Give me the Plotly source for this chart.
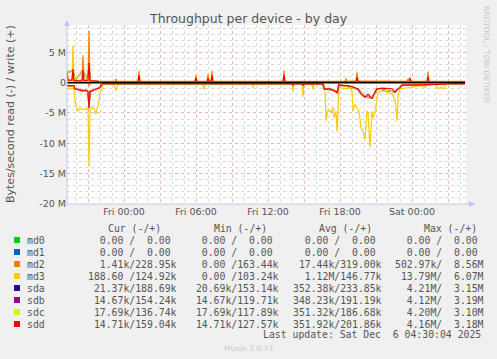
import plotly.graph_objects as go

# ---------------- data (values in MB/s) ----------------
D = "2025-12-0"
md3_read_t = ["4 19:15","4 19:50","4 19:55","4 20:00","4 20:10","4 20:20","4 20:30","4 20:40","4 20:50","4 20:55",
              "4 21:00","4 21:05","4 21:10","4 21:20","4 21:30","4 21:40","4 21:45","4 21:55","4 22:00","4 22:10",
              "4 22:15","4 22:50","4 23:10","4 23:20","4 23:30","5 00:00","5 06:30","5 06:40","5 06:50","5 10:40",
              "5 10:45","5 10:50","5 14:00","5 14:05","5 14:10","5 14:50","5 14:55","5 15:00","5 15:40","5 15:45",
              "5 15:50","5 16:40","5 16:45","5 16:50","5 17:00","5 17:15","5 17:25","5 17:30","5 17:40","5 17:45",
              "5 17:50","5 17:55","5 18:25","5 18:55","5 19:00","5 19:05","5 19:15","5 19:25","5 19:35","5 19:45",
              "5 19:55","5 20:05","5 20:15","5 20:20","5 20:30","5 20:40","5 20:45","5 20:55","5 21:05","5 21:10",
              "5 21:30","5 21:55","5 22:20","5 22:35","5 22:45","5 22:50","5 23:00","5 23:50","6 00:40","6 01:05",
              "6 01:15","6 02:00","6 02:05","6 02:25","6 02:40","6 02:50","6 04:25"]
md3_read = [1.0,1.0,3.0,3.8,4.7,4.2,4.5,4.3,4.4,4.2,
            4.5,13.8,4.4,4.1,4.3,5.2,4.5,3.0,1.6,1.0,
            0.2,0.1,0.2,1.3,0.3,0.05,0.05,1.1,0.1,0.05,
            0.8,0.05,0.1,1.5,0.1,0.2,2.3,0.3,0.2,1.1,
            0.1,0.3,1.5,6.3,4.4,4.9,4.1,5.8,4.7,8.0,
            4.0,0.8,1.0,1.0,1.5,4.7,3.6,4.2,4.7,7.4,
            8.0,9.4,4.7,4.9,10.7,4.7,5.8,4.9,3.0,1.6,
            1.3,1.6,1.9,2.8,6.3,2.2,1.0,0.8,0.5,0.8,
            0.1,0.1,1.0,0.8,1.0,0.1,0.05]

md3_write_t = ["4 19:15","4 19:40","4 19:45","4 19:50","4 21:10","5 01:10","5 01:15","5 01:20","6 04:25"]
md3_write = [0.3,0.3,6.07,0.3,0.15,0.1,0.8,0.1,0.1]

md2_write_t = ["4 19:15","4 19:20","4 19:40","4 19:45","4 19:50","4 20:30","4 20:35","4 20:40","4 21:00","4 21:05",
               "4 21:10","4 22:00","4 23:15","4 23:20","4 23:25","5 01:10","5 01:15","5 01:20","5 05:55","5 06:00",
               "5 06:05","5 06:55","5 07:00","5 07:05","5 07:15","5 07:20","5 07:25","5 13:15","5 13:20","5 13:25",
               "5 18:25","5 18:30","5 18:35","5 19:20","5 19:25","5 19:30","5 23:35","5 23:40","5 23:50","5 23:55",
               "6 01:15","6 01:20","6 01:25","6 04:25"]
md2_write = [2.0,0.3,0.4,2.5,0.3,0.4,4.5,0.4,0.5,8.56,
             0.4,0.2,0.2,0.6,0.2,0.2,1.9,0.2,0.2,1.2,
             0.2,0.2,1.45,0.3,0.3,1.9,0.2,0.2,2.0,0.2,
             0.2,0.7,0.2,0.3,1.7,0.3,0.2,0.6,0.7,0.2,
             0.2,1.8,0.2,0.2]
md2_read_t = ["4 19:15","4 21:00","4 21:05","4 21:10","6 04:25"]
md2_read = [0.05,0.05,0.5,0.05,0.02]

sdd_write_t = ["4 19:15","4 19:20","4 19:40","4 19:45","4 19:50","4 20:30","4 20:35","4 20:40","4 21:00","4 21:05",
               "4 21:10","4 22:00","5 01:10","5 01:15","5 01:20","5 05:55","5 06:00","5 06:05","5 06:55","5 07:00",
               "5 07:05","5 07:15","5 07:20","5 07:25","5 13:15","5 13:20","5 13:25","5 19:20","5 19:25","5 19:30",
               "5 23:45","5 23:50","5 23:55","6 01:15","6 01:20","6 01:25","6 04:25"]
sdd_write = [1.7,0.4,0.4,2.2,0.3,0.3,2.0,0.3,0.4,3.18,
             0.3,0.15,0.15,1.2,0.15,0.15,0.8,0.15,0.15,0.7,
             0.15,0.15,1.2,0.15,0.15,1.2,0.15,0.15,0.9,0.15,
             0.15,0.7,0.15,0.15,1.0,0.15,0.15]
sdd_read_t = ["4 19:15","4 19:50","4 19:55","4 20:10","4 20:30","4 20:50","4 21:00","4 21:05","4 21:10","4 21:30",
              "4 21:50","4 22:00","4 22:05","4 22:15","5 14:00","5 14:05","5 14:10","5 14:50","5 14:55","5 15:00",
              "5 16:35","5 16:40","5 16:55","5 17:10","5 17:25","5 17:40","5 17:45","5 17:55","5 18:05","5 18:40",
              "5 19:05","5 19:30","5 19:45","5 20:05","5 20:20","5 20:40","5 20:55","5 21:05","5 21:30","5 21:55",
              "5 22:20","5 22:35","5 22:45","5 23:00","5 23:10","6 02:20","6 03:00","6 04:25"]
sdd_read = [0.5,0.5,1.0,1.2,1.4,1.2,1.5,4.16,1.5,1.2,
            1.0,0.8,0.3,0.15,0.15,0.4,0.15,0.15,0.5,0.15,
            0.2,1.0,1.1,1.0,1.3,1.4,1.7,0.3,0.5,0.5,
            0.7,1.1,1.9,2.4,1.9,2.6,1.6,1.0,0.9,0.9,
            1.0,1.6,1.1,0.8,0.4,0.3,0.15,0.15]

disk_t = ["4 19:15","4 19:45","4 19:55","4 20:35","4 21:00","4 21:05","4 21:10","4 22:00","4 22:15","5 16:35",
          "5 16:40","5 17:25","5 17:45","5 17:55","5 19:30","5 20:05","5 20:40","5 21:05","5 22:35","5 23:00",
          "5 23:10","6 04:25"]
sda_read = [0.5,0.6,1.0,1.3,1.5,4.21,1.5,0.8,0.15,0.2,1.0,1.3,1.7,0.3,1.1,2.4,2.6,1.0,1.6,0.8,0.4,0.15]
sda_write = [1.5,2.1,0.4,1.9,0.4,3.15,0.3,0.15,0.15,0.15,0.15,0.15,0.15,0.15,0.15,0.15,0.15,0.15,0.15,0.15,0.15,0.15]
sdb_read = [0.5,0.6,1.0,1.2,1.4,4.12,1.4,0.8,0.15,0.2,1.0,1.2,1.6,0.3,1.0,2.3,2.5,1.0,1.5,0.8,0.4,0.15]
sdb_write = [1.6,2.0,0.4,2.0,0.4,3.19,0.3,0.15,0.15,0.15,0.15,0.15,0.15,0.15,0.15,0.15,0.15,0.15,0.15,0.15,0.15,0.15]
sdc_read = [0.5,0.6,1.0,1.3,1.5,4.20,1.5,0.8,0.15,0.2,1.0,1.3,1.7,0.3,1.1,2.4,2.6,1.0,1.6,0.8,0.4,0.15]
sdc_write = [1.5,2.1,0.4,1.9,0.4,3.10,0.3,0.15,0.15,0.15,0.15,0.15,0.15,0.15,0.15,0.15,0.15,0.15,0.15,0.15,0.15,0.15]
zero_t = ["4 19:15","6 04:25"]
zero_v = [0.0, 0.0]

devices = ["md0","md1","md2","md3","sda","sdb","sdc","sdd"]
colors = ["#00CC00","#0066B3","#FF8000","#FFCC00","#330099","#990099","#CCFF00","#FF0000"]
cur_col = [("0.00","0.00"),("0.00","0.00"),("1.41k","228.95k"),("188.60","124.92k"),
           ("21.37k","188.69k"),("14.67k","154.24k"),("17.69k","136.74k"),("14.71k","159.04k")]
min_col = [("0.00","0.00"),("0.00","0.00"),("0.00","163.44k"),("0.00","103.24k"),
           ("20.69k","153.14k"),("14.67k","119.71k"),("17.69k","117.89k"),("14.71k","127.57k")]
avg_col = [("0.00","0.00"),("0.00","0.00"),("17.44k","319.00k"),("1.12M","146.77k"),
           ("352.38k","233.85k"),("348.23k","191.19k"),("351.32k","186.68k"),("351.92k","201.86k")]
max_col = [("0.00","0.00"),("0.00","0.00"),("502.97k","8.56M"),("13.79M","6.07M"),
           ("4.21M","3.15M"),("4.12M","3.19M"),("4.20M","3.10M"),("4.16M","3.18M")]
col_heads = ["Cur (-/+)","Min (-/+)","Avg (-/+)","Max (-/+)"]

x_ticks = ["4 21:00","5 00:00","5 03:00","5 06:00","5 09:00","5 12:00","5 15:00","5 18:00","5 21:00","6 00:00","6 03:00"]
x_labels = ["","Fri 00:00","","Fri 06:00","","Fri 12:00","","Fri 18:00","","Sat 00:00",""]
y_ticks = [-20,-15,-10,-5,0,5]
y_labels = ["-20 M","-15 M","-10 M","-5 M","0","5 M"]

# ---------------- figure ----------------
W, H = 497, 359
ML, MR, MT, MB = 67, 31, 25, 155
PW, PH = W - ML - MR, H - MT - MB
def xp(px): return (px - ML) / PW
def yp(py): return (H - MB - py) / PH
def ts(lst): return [D + s for s in lst]

fig = go.Figure()
def line(t, v, c, sign=1, w=1.2):
    fig.add_trace(go.Scatter(x=ts(t), y=[sign * a for a in v], mode="lines",
                             line=dict(color=c, width=w), showlegend=False, hoverinfo="skip"))

line(zero_t, zero_v, colors[0]); line(zero_t, zero_v, colors[1])
line(md2_read_t, md2_read, colors[2], -1); line(md2_write_t, md2_write, colors[2])
line(md3_read_t, md3_read, colors[3], -1); line(md3_write_t, md3_write, colors[3])
line(disk_t, sda_read, colors[4], -1); line(disk_t, sda_write, colors[4])
line(disk_t, sdb_read, colors[5], -1); line(disk_t, sdb_write, colors[5])
line(disk_t, sdc_read, colors[6], -1); line(disk_t, sdc_write, colors[6])
line(sdd_read_t, sdd_read, colors[7], -1); line(sdd_write_t, sdd_write, colors[7])
line(zero_t, zero_v, "#000000", 1, 1.3)

grey = "#555555"
fig.update_layout(
    width=W, height=H, margin=dict(l=ML, r=MR, t=MT, b=MB),
    paper_bgcolor="#F0F0F0", plot_bgcolor="#FFFFFF",
    font=dict(family="DejaVu Sans", color=grey, size=9.5),
    xaxis=dict(type="date", range=[D + "4 19:15", D + "6 04:30"], tickmode="array",
               tickvals=ts(x_ticks), ticktext=x_labels, showgrid=True, gridcolor="#EDB8B8",
               griddash="dot", gridwidth=1, zeroline=False, showline=False, ticks="",
               tickfont=dict(size=9.5, color=grey),
               minor=dict(dtick=3600000, tick0=D + "4 00:00", showgrid=True,
                          gridcolor="#DADADA", griddash="dot", gridwidth=1)),
    yaxis=dict(range=[-20, 9.5], tickmode="array", tickvals=y_ticks, ticktext=y_labels,
               showgrid=True, gridcolor="#EDB8B8", griddash="dot", gridwidth=1,
               zeroline=False, showline=False, ticks="", tickfont=dict(size=9.5, color=grey),
               minor=dict(dtick=1, tick0=0, showgrid=True, gridcolor="#DADADA",
                          griddash="dot", gridwidth=1)),
)

axc = "#C4C4F2"
shapes = [
    dict(type="line", xref="paper", yref="paper", x0=xp(67), x1=xp(67), y0=yp(204), y1=yp(24), line=dict(color=axc, width=1)),
    dict(type="line", xref="paper", yref="paper", x0=xp(67), x1=xp(470), y0=yp(204), y1=yp(204), line=dict(color=axc, width=1)),
    dict(type="path", xref="paper", yref="paper",
         path=f"M {xp(64)} {yp(26)} L {xp(70)} {yp(26)} L {xp(67)} {yp(20)} Z", fillcolor=axc, line=dict(width=0)),
    dict(type="path", xref="paper", yref="paper",
         path=f"M {xp(469)} {yp(201)} L {xp(469)} {yp(207)} L {xp(475)} {yp(204)} Z", fillcolor=axc, line=dict(width=0)),
]
ann = []
def txt(x, y, s, size, color=grey, anchor="left", family="DejaVu Sans", angle=0):
    ann.append(dict(text=s.replace(" ", "\u00a0"), x=xp(x), y=yp(y), xref="paper", yref="paper",
                    showarrow=False, xanchor=anchor, yanchor="middle", borderpad=0,
                    textangle=angle, font=dict(size=size, color=color, family=family)))

txt(248.5, 19, "Throughput per device - by day", 12.5, anchor="center")
txt(10, 114, "Bytes/second read (-) / write (+)", 11, anchor="center", angle=-90)
txt(487, 54, "RRDTOOL / TOBI OETIKER", 7.5, color="#C8C8C8", anchor="center", angle=90)
txt(248, 348, "Munin 2.0.73", 7.5, color="#C8C8C8", anchor="center")

mono = "DejaVu Sans Mono"
fs = 9.8
def fld(p):
    out = ""
    for s in p:
        u = s[-1] if s[-1] in "kM" else " "
        n = s[:-1] if s[-1] in "kM" else s
        out += f"{n:>6}{u}" + "/"
    return out[:-1]

col_x = [87.3, 189.1, 292.3, 394.0]
head_x = [107.3, 212.7, 317.7, 422.7]
for hx, h in zip(head_x, col_heads):
    txt(hx, 228, h, fs, family=mono)
for i, dev in enumerate(devices):
    yy = 240 + 12 * i
    shapes.append(dict(type="rect", xref="paper", yref="paper", x0=xp(14), x1=xp(20),
                       y0=yp(yy - 3), y1=yp(yy + 3), fillcolor=colors[i], line=dict(width=0)))
    txt(26, yy, dev, fs, family=mono)
    for cx, col in zip(col_x, [cur_col, min_col, avg_col, max_col]):
        txt(cx, yy, fld(col[i]), fs, family=mono)
txt(261.7, 335, "Last update: Sat Dec  6 04:30:04 2025", fs, family=mono)

fig.update_layout(shapes=shapes, annotations=ann)
fig.write_html("out.html", config={"displayModeBar": False},
               post_script="document.body.style.margin='0';document.body.style.overflow='hidden';")
